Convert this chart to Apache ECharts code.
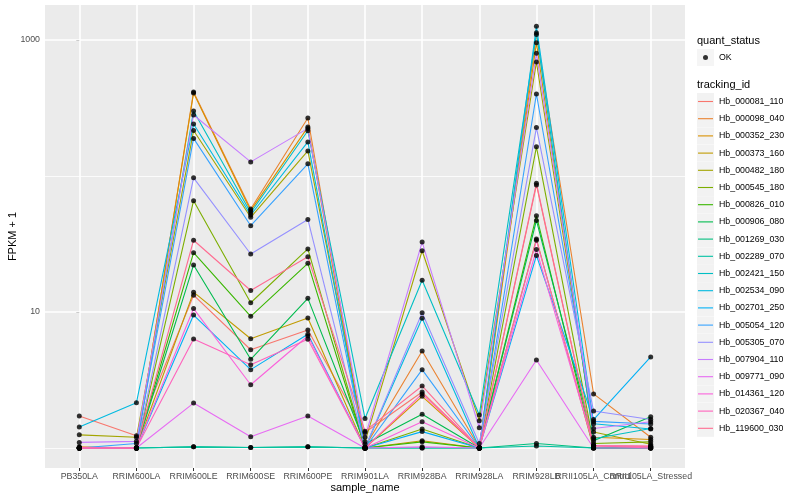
<!DOCTYPE html>
<html><head><meta charset="utf-8">
<script src="https://cdn.jsdelivr.net/npm/echarts@6/dist/echarts.min.js"></script>
<style>html,body{margin:0;padding:0;background:#fff}#c{width:800px;height:500px}</style>
</head><body><div id="c"></div>
<script>
const categories = ['PB350LA','RRIM600LA','RRIM600LE','RRIM600SE','RRIM600PE','RRIM901LA','RRIM928BA','RRIM928LA','RRIM928LB','RRII105LA_Control','RRII105LA_Stressed'];
const trackingIds = ['Hb_000081_110','Hb_000098_040','Hb_000352_230','Hb_000373_160','Hb_000482_180','Hb_000545_180','Hb_000826_010','Hb_000906_080','Hb_001269_030','Hb_002289_070','Hb_002421_150','Hb_002534_090','Hb_002701_250','Hb_005054_120','Hb_005305_070','Hb_007904_110','Hb_009771_090','Hb_014361_120','Hb_020367_040','Hb_119600_030'];
const lineColors = ['#F8766D','#EA8331','#D89000','#C09B00','#A3A500','#7CAE00','#39B600','#00BB4E','#00BF7D','#00C1A3','#00BFC4','#00BAE0','#00B0F6','#35A2FF','#9590FF','#C77CFF','#E76BF3','#FA62DB','#FF62BC','#FF6C91'];

// FPKM + 1 per sample (order of categories)
const hb_000081_110 = [1.72, 1.23, 13.3, 5.28, 7.37, 1.30, 2.58, 1.00, 85.9, 1.04, 1.03];
const hb_000098_040 = [1.02, 1.00, 415, 57.2, 267, 1.02, 5.17, 1.01, 1098, 2.50, 1.20];
const hb_000352_230 = [1.00, 1.00, 408, 55.6, 229, 1.00, 2.40, 1.00, 955, 1.20, 1.155];
const hb_000373_160 = [1.00, 1.00, 14.0, 6.36, 9.03, 1.00, 1.13, 1.00, 34.4, 1.00, 1.00];
const hb_000482_180 = [1.25, 1.20, 216, 49.7, 153, 1.11, 28.2, 1.59, 689, 1.31, 1.066];
const hb_000545_180 = [1.00, 1.00, 65.8, 11.7, 29.1, 1.00, 1.38, 1.00, 164, 1.08, 1.11];
const hb_000826_010 = [1.00, 1.00, 27.3, 9.30, 22.8, 1.00, 1.11, 1.00, 51.1, 1.00, 1.00];
const hb_000906_080 = [1.00, 1.00, 22.2, 4.49, 12.6, 1.07, 1.77, 1.00, 47.1, 1.13, 1.70];
const hb_001269_030 = [1.00, 1.00, 1.02, 1.01, 1.02, 1.00, 1.00, 1.00, 1.08, 1.00, 1.00];
const hb_002289_070 = [1.00, 1.00, 1.02, 1.01, 1.02, 1.00, 1.00, 1.00, 1.035, 1.00, 1.00];
const hb_002421_150 = [1.00, 1.00, 301, 53.7, 215, 1.65, 17.1, 1.75, 1132, 1.17, 1.39];
const hb_002534_090 = [1.43, 2.15, 241, 51.7, 178, 1.00, 8.99, 1.00, 1261, 1.51, 1.38];
const hb_002701_250 = [1.00, 1.00, 9.50, 3.77, 6.86, 1.00, 1.32, 1.00, 26.0, 1.62, 4.67];
const hb_005054_120 = [1.00, 1.08, 189, 43.1, 123, 1.00, 3.77, 1.00, 401, 1.57, 1.50];
const hb_005305_070 = [1.00, 1.00, 97, 26.7, 47.9, 1.00, 9.88, 1.08, 227, 1.87, 1.62];
const hb_007904_110 = [1.10, 1.12, 281, 127, 224, 1.20, 32.7, 1.41, 798, 1.39, 1.56];
const hb_009771_090 = [1.00, 1.00, 2.14, 1.21, 1.72, 1.00, 1.02, 1.00, 4.44, 1.00, 1.00];
const hb_014361_120 = [1.00, 1.00, 10.6, 2.92, 6.66, 1.00, 1.56, 1.00, 28.8, 1.04, 1.03];
const hb_020367_040 = [1.00, 1.00, 6.33, 4.10, 6.30, 1.00, 2.50, 1.00, 33.7, 1.04, 1.00];
const hb_119600_030 = [1.00, 1.00, 33.7, 14.4, 25.5, 1.33, 2.86, 1.00, 88.4, 1.04, 1.03];

const seriesValues = [hb_000081_110, hb_000098_040, hb_000352_230, hb_000373_160, hb_000482_180, hb_000545_180, hb_000826_010, hb_000906_080, hb_001269_030, hb_002289_070, hb_002421_150, hb_002534_090, hb_002701_250, hb_005054_120, hb_005305_070, hb_007904_110, hb_009771_090, hb_014361_120, hb_020367_040, hb_119600_030];

const yTickLabels = [10, 1000];
const yMajorBreaks = [10, 1000];
const yMinorBreaks = [1, 100];

const FONT = '"Liberation Sans", Arial, sans-serif';
const chart = echarts.init(document.getElementById('c'), null, {renderer: 'canvas'});
const X_MIN = -0.6, X_MAX = 10.6;
const catIdx = categories.map((_, i) => i);
const labelVals = [X_MIN, ...catIdx, X_MAX];

const lineSeries = trackingIds.map((id, k) => ({
  name: id,
  type: 'line',
  data: seriesValues[k].map((v, i) => [i, v]),
  showSymbol: false,
  lineStyle: {width: 1.1, color: lineColors[k]},
  itemStyle: {color: lineColors[k]},
  z: 2,
  silent: true
}));

const gridSeries = {
  name: '_grid', type: 'line', data: [], z: 1, silent: true,
  markLine: {
    silent: true, z: 1, symbol: ['none', 'none'], label: {show: false}, animation: false,
    data: [
      ...yMinorBreaks.map(v => ({yAxis: v, lineStyle: {color: '#FFFFFF', width: 0.8, type: 'solid'}})),
      ...yMajorBreaks.map(v => ({yAxis: v, lineStyle: {color: '#FFFFFF', width: 1.6, type: 'solid'}}))
    ]
  }
};

const pointSeries = {
  name: 'OK', type: 'scatter', z: 3, silent: true,
  symbol: 'circle', symbolSize: 5,
  itemStyle: {color: '#000000'},
  data: seriesValues.flatMap(arr => arr.map((v, i) => [i, v]))
};

const lineIcon = 'path://M0 0M17 17M1 7.95h15v1.1h-15z';
const dotIcon = 'path://M0 0M17 17M11 8.5A2.5 2.5 0 1 1 6 8.5A2.5 2.5 0 1 1 11 8.5Z';

const legendText = {fontSize: 8.8, color: '#000', fontFamily: FONT};
const legendBase = {orient: 'vertical', left: 697, padding: 0, itemWidth: 17, itemHeight: 17, itemGap: 0.2, selectedMode: false, textStyle: legendText};

chart.setOption({
  animation: false,
  backgroundColor: '#FFFFFF',
  title: [
    {text: 'quant_status', left: 697, top: 35, padding: 0, textStyle: {fontSize: 11, fontWeight: 'normal', color: '#000', fontFamily: FONT}},
    {text: 'tracking_id', left: 697, top: 79, padding: 0, textStyle: {fontSize: 11, fontWeight: 'normal', color: '#000', fontFamily: FONT}}
  ],
  grid: {left: 45, right: 115, top: 5, bottom: 32, show: true, backgroundColor: '#EBEBEB', borderWidth: 0, containLabel: false, outerBoundsMode: 'none'},
  xAxis: {
    type: 'value', min: X_MIN, max: X_MAX,
    name: 'sample_name', nameLocation: 'middle', nameGap: 14, nameMoveOverlap: false,
    nameTextStyle: {fontSize: 11, color: '#000', fontFamily: FONT},
    axisLine: {show: false},
    axisTick: {show: true, length: 3, customValues: catIdx, lineStyle: {color: '#333333', width: 1}},
    axisLabel: {customValues: labelVals, interval: 0, hideOverlap: false, showMinLabel: false, showMaxLabel: false, margin: 4, fontSize: 8.8, color: '#4D4D4D', fontFamily: FONT,
      formatter: v => (Math.abs(v - Math.round(v)) < 1e-6 && categories[Math.round(v)]) || ''},
    splitLine: {show: true, lineStyle: {color: '#FFFFFF', width: 1.6}},
    minorSplitLine: {show: false}
  },
  yAxis: {
    type: 'log', logBase: 10, min: 0.713, max: 1809,
    name: 'FPKM + 1', nameLocation: 'middle', nameGap: 27, nameMoveOverlap: false,
    nameTextStyle: {fontSize: 11, color: '#000', fontFamily: FONT},
    axisLine: {show: false},
    axisTick: {show: true, length: 3, customValues: yTickLabels, lineStyle: {color: '#333333', width: 1}},
    axisLabel: {customValues: yTickLabels, margin: 5, fontSize: 8.8, color: '#4D4D4D', fontFamily: FONT,
      formatter: v => String(Math.round(v))},
    splitLine: {show: false}
  },
  legend: [
    Object.assign({}, legendBase, {id: 'qsBox', top: 49, data: [{name: 'OK', icon: 'rect', itemStyle: {color: '#F2F2F2'}}], textStyle: Object.assign({}, legendText, {color: 'rgba(0,0,0,0)'})}),
    Object.assign({}, legendBase, {id: 'qsKey', top: 49, data: [{name: 'OK', icon: dotIcon, itemStyle: {color: '#000'}}]}),
    Object.assign({}, legendBase, {id: 'tiBox', top: 93, data: trackingIds.map(n => ({name: n, icon: 'rect', itemStyle: {color: '#F2F2F2'}})), textStyle: Object.assign({}, legendText, {color: 'rgba(0,0,0,0)'})}),
    Object.assign({}, legendBase, {id: 'tiKey', top: 93, data: trackingIds.map((n, k) => ({name: n, icon: lineIcon, itemStyle: {color: lineColors[k]}}))})
  ],
  tooltip: {show: false},
  series: [gridSeries, ...lineSeries, pointSeries]
});
</script>
</body></html>
